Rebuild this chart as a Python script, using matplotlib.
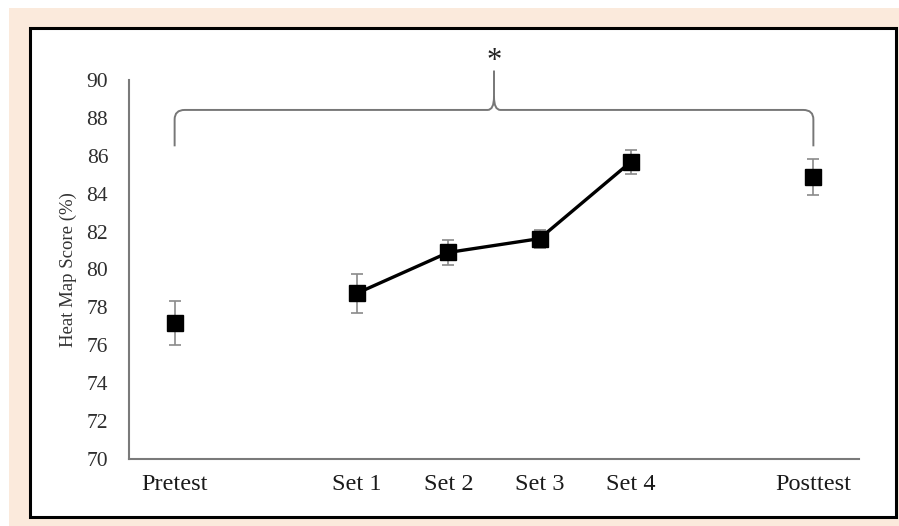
import matplotlib
matplotlib.use("Agg")
import matplotlib.pyplot as plt
import numpy as np
from matplotlib.patches import Rectangle, PathPatch
from matplotlib.path import Path

# data
labels = ["Pretest", "Set 1", "Set 2", "Set 3", "Set 4", "Posttest"]
xpos = [0, 2, 3, 4, 5, 7]
scores = [77.2, 78.75, 80.9, 81.63, 85.68, 84.88]
errs = [1.16, 1.02, 0.66, 0.47, 0.62, 0.93]
yticks = [70, 72, 74, 76, 78, 80, 82, 84, 86, 88, 90]

plt.rcParams["font.family"] = ["Liberation Serif", "DejaVu Serif"]

W, H = 899, 526
fig = plt.figure(figsize=(W / 100, H / 100), dpi=100, facecolor="white")

# peach background + black frame (behind the axes)
fig.patches.append(Rectangle((9 / W, 0), 1 - 9 / W, 1 - 8 / H, transform=fig.transFigure,
                             facecolor="#fbeadc", edgecolor="none", zorder=-2))
fig.patches.append(Rectangle((30 / W, (H - 517) / H), (896 - 30) / W, (517 - 28) / H,
                             transform=fig.transFigure, facecolor="white",
                             edgecolor="black", linewidth=2.2, zorder=-1))

ax = fig.add_axes([129 / W, (H - 459) / H, 730 / W, 379 / H])
ax.set_facecolor("none")

# pretest and posttest as lone points, sets joined by a line
solo = [0, 5]
ax.errorbar([xpos[i] for i in solo], [scores[i] for i in solo], yerr=[errs[i] for i in solo],
            fmt="s", color="black", markersize=11, ecolor="#8a8a8a", elinewidth=1.2,
            capsize=4, capthick=1.2, zorder=3)
ax.errorbar(xpos[1:5], scores[1:5], yerr=errs[1:5], fmt="s-", color="black", markersize=11,
            linewidth=2.4, ecolor="#8a8a8a", elinewidth=1.2, capsize=4, capthick=1.2, zorder=3)

ax.set_xlim(-0.5, 7.5)
ax.set_ylim(70, 90)
ax.set_yticks(yticks)
ax.set_xticks(xpos)
ax.set_xticklabels(labels)
ax.tick_params(axis="y", length=0, pad=15, labelsize=15.5, labelcolor="#2e2e2e")
ax.tick_params(axis="x", length=0, pad=11, labelsize=17.5, labelcolor="#1a1a1a")
for s in ["top", "right"]:
    ax.spines[s].set_visible(False)
for s in ["left", "bottom"]:
    ax.spines[s].set_color("#7a7a7a")
    ax.spines[s].set_linewidth(1.5)

ax.set_ylabel("Heat Map Score (%)", fontsize=13.5, color="#333333", labelpad=7)

# brace over pretest..posttest
x0, x1 = xpos[0], xpos[-1]
xm = (x0 + x1) / 2
yb, yh, yp = 86.5, 88.42, 90.5
rx, ry = 0.11, 0.5
cx, cy = 0.07, 0.7
verts = [(x0, yb), (x0, yh - ry), (x0, yh), (x0 + rx, yh),
         (xm - cx, yh), (xm, yh), (xm, yh + cy), (xm, yp),
         (xm, yh + cy), (xm, yh), (xm + cx, yh),
         (x1 - rx, yh), (x1, yh), (x1, yh - ry), (x1, yb)]
codes = [Path.MOVETO, Path.LINETO, Path.CURVE3, Path.CURVE3,
         Path.LINETO, Path.CURVE3, Path.CURVE3, Path.LINETO,
         Path.MOVETO, Path.CURVE3, Path.CURVE3,
         Path.LINETO, Path.CURVE3, Path.CURVE3, Path.LINETO]
ax.add_patch(PathPatch(Path(verts, codes), facecolor="none", edgecolor="#777777",
                       linewidth=1.4, clip_on=False, zorder=2))
ax.text(xm, 90.95, "*", ha="center", va="center", fontsize=22, color="#222222", clip_on=False)

fig.savefig("out.png", dpi=100, facecolor=fig.get_facecolor())
